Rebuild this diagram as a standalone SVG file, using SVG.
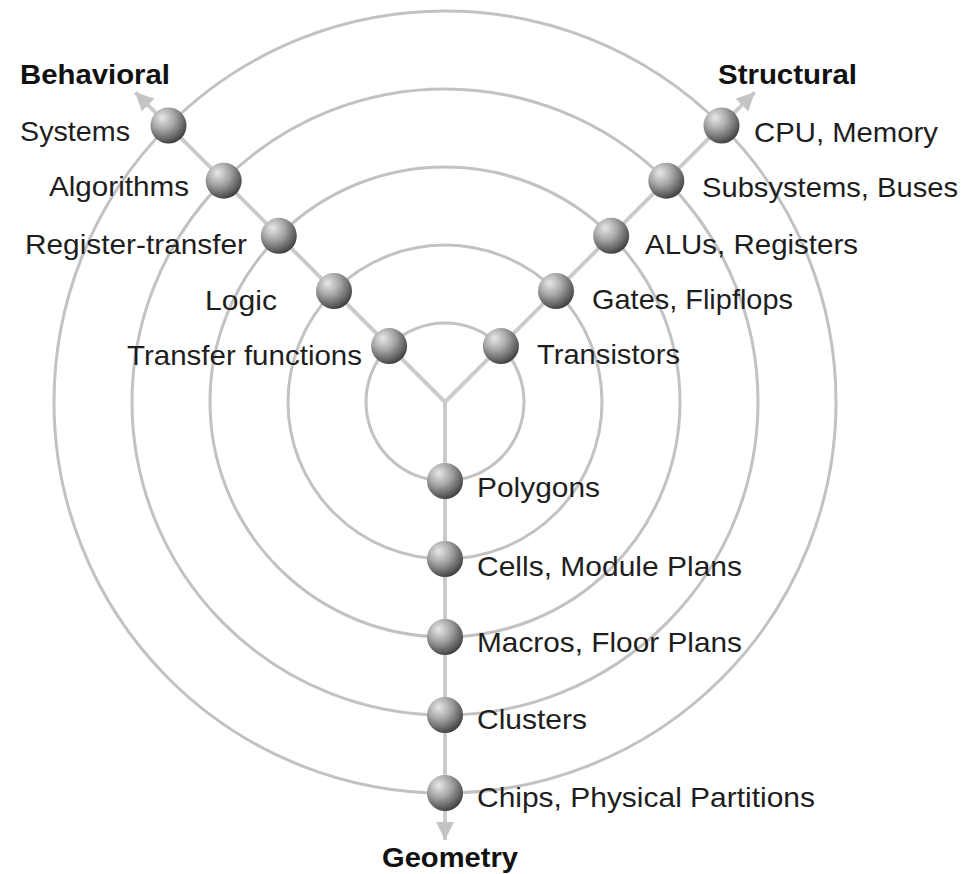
<svg xmlns="http://www.w3.org/2000/svg" width="979" height="874" viewBox="0 0 979 874">
<defs>
<radialGradient id="ball" cx="0.38" cy="0.32" r="0.72" fx="0.32" fy="0.28">
<stop offset="0" stop-color="#e8e8e8"/>
<stop offset="0.45" stop-color="#a6a6a6"/>
<stop offset="0.85" stop-color="#5a5a5a"/>
<stop offset="1" stop-color="#3a3a3a"/>
</radialGradient>
<marker id="arr" markerUnits="userSpaceOnUse" markerWidth="20" markerHeight="18" refX="18" refY="9" orient="auto">
<path d="M0,0 L18,9 L0,18 Z" fill="#c4c4c4"/>
</marker>
<style>
.ring{fill:none;stroke:#c2c2c2;stroke-width:3}
.axis{fill:none;stroke:#cbcbcb;stroke-width:4}
.b{fill:url(#ball)}
.t{font-family:"Liberation Sans",Arial,sans-serif;font-size:28px;fill:#1e1e1e}
.h{font-family:"Liberation Sans",Arial,sans-serif;font-size:28px;font-weight:bold;fill:#111}
</style>
</defs>
<rect width="979" height="874" fill="#ffffff"/>
<g id="connectors">
<circle class="ring" cx="445" cy="402" r="79"/>
<circle class="ring" cx="445" cy="402" r="157"/>
<circle class="ring" cx="445" cy="402" r="235"/>
<circle class="ring" cx="445" cy="402" r="313"/>
<circle class="ring" cx="445" cy="402" r="391"/>
<line class="axis" x1="445" y1="402" x2="135.3" y2="92.3" marker-end="url(#arr)"/>
<line class="axis" x1="445" y1="402" x2="754.7" y2="92.3" marker-end="url(#arr)"/>
<line class="axis" x1="445" y1="402" x2="445" y2="840" marker-end="url(#arr)"/>
</g>
<g id="axis-labels">
<text class="h" x="20" y="84" textLength="150" lengthAdjust="spacingAndGlyphs">Behavioral</text>
<text class="h" x="718" y="84" textLength="139" lengthAdjust="spacingAndGlyphs">Structural</text>
<text class="h" x="382" y="867" textLength="136" lengthAdjust="spacingAndGlyphs">Geometry</text>
</g>
<g id="systems"><circle class="b" cx="168.5" cy="125.5" r="18"/><text class="t" x="20" y="141" textLength="110" lengthAdjust="spacingAndGlyphs">Systems</text></g>
<g id="algorithms"><circle class="b" cx="223.7" cy="180.7" r="18"/><text class="t" x="49" y="196" textLength="140" lengthAdjust="spacingAndGlyphs">Algorithms</text></g>
<g id="register-transfer"><circle class="b" cx="278.8" cy="235.8" r="18"/><text class="t" x="25" y="254" textLength="222" lengthAdjust="spacingAndGlyphs">Register-transfer</text></g>
<g id="logic"><circle class="b" cx="334" cy="291" r="18"/><text class="t" x="205" y="310" textLength="72" lengthAdjust="spacingAndGlyphs">Logic</text></g>
<g id="transfer-functions"><circle class="b" cx="389.1" cy="346.1" r="18"/><text class="t" x="127" y="365" textLength="235" lengthAdjust="spacingAndGlyphs">Transfer functions</text></g>
<g id="cpu-memory"><circle class="b" cx="721.5" cy="125.5" r="18"/><text class="t" x="754" y="142" textLength="184" lengthAdjust="spacingAndGlyphs">CPU, Memory</text></g>
<g id="subsystems-buses"><circle class="b" cx="666.3" cy="180.7" r="18"/><text class="t" x="702" y="197" textLength="256" lengthAdjust="spacingAndGlyphs">Subsystems, Buses</text></g>
<g id="alus-registers"><circle class="b" cx="611.2" cy="235.8" r="18"/><text class="t" x="645" y="254" textLength="213" lengthAdjust="spacingAndGlyphs">ALUs, Registers</text></g>
<g id="gates-flipflops"><circle class="b" cx="556" cy="291" r="18"/><text class="t" x="592" y="309" textLength="201" lengthAdjust="spacingAndGlyphs">Gates, Flipflops</text></g>
<g id="transistors"><circle class="b" cx="500.9" cy="346.1" r="18"/><text class="t" x="537" y="364" textLength="143" lengthAdjust="spacingAndGlyphs">Transistors</text></g>
<g id="polygons"><circle class="b" cx="445" cy="481" r="18"/><text class="t" x="477" y="497" textLength="123" lengthAdjust="spacingAndGlyphs">Polygons</text></g>
<g id="cells-module-plans"><circle class="b" cx="445" cy="559" r="18"/><text class="t" x="477" y="576" textLength="265" lengthAdjust="spacingAndGlyphs">Cells, Module Plans</text></g>
<g id="macros-floor-plans"><circle class="b" cx="445" cy="637" r="18"/><text class="t" x="477" y="652" textLength="265" lengthAdjust="spacingAndGlyphs">Macros, Floor Plans</text></g>
<g id="clusters"><circle class="b" cx="445" cy="715" r="18"/><text class="t" x="477" y="729" textLength="110" lengthAdjust="spacingAndGlyphs">Clusters</text></g>
<g id="chips"><circle class="b" cx="445" cy="793" r="18"/><text class="t" x="477" y="807" textLength="338" lengthAdjust="spacingAndGlyphs">Chips, Physical Partitions</text></g>
</svg>
